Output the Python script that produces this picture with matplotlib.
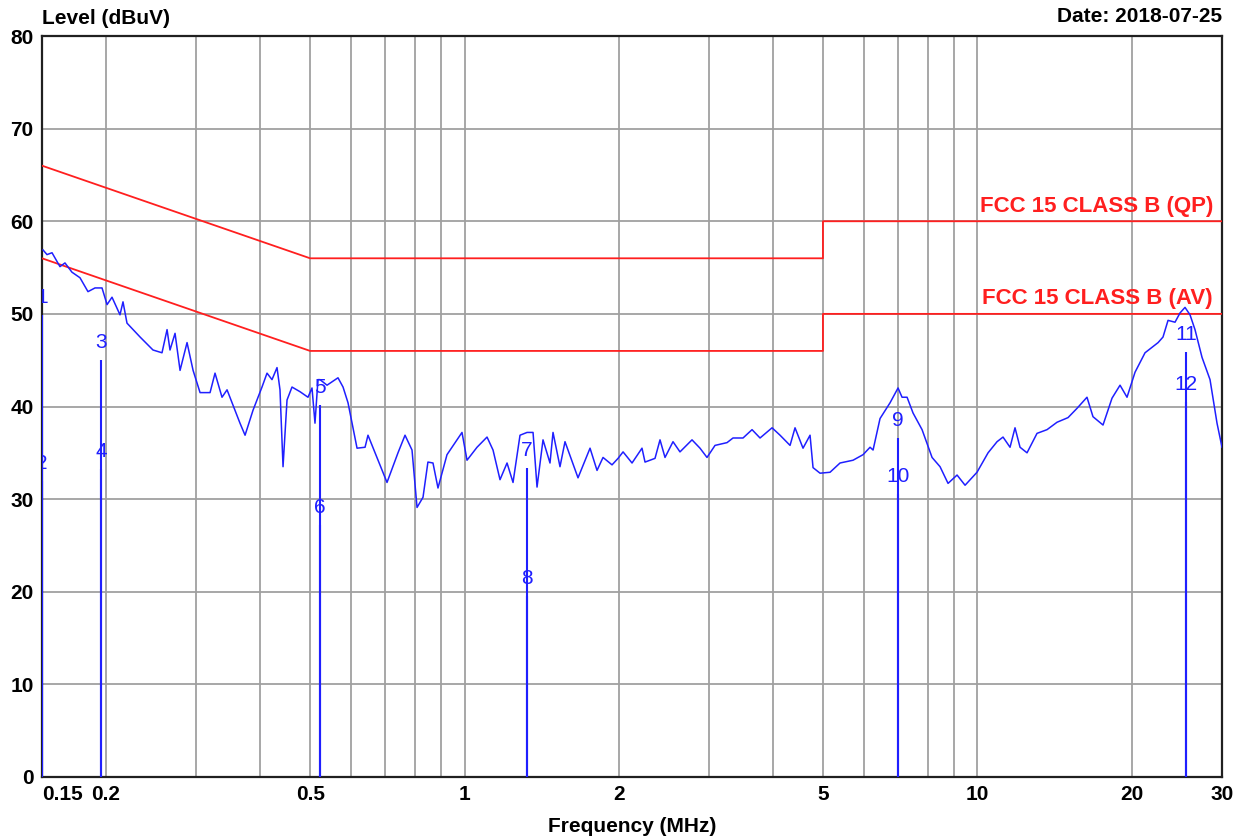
import matplotlib
matplotlib.use('Agg')
import matplotlib.pyplot as plt
from matplotlib.ticker import FixedLocator, NullFormatter

plt.rcParams['font.family'] = ['Liberation Sans', 'DejaVu Sans']

# --- measured trace (MHz, dBuV) ---
freq = [0.1507, 0.1534, 0.1569, 0.1626, 0.1663, 0.1716, 0.1779, 0.1844, 0.1903, 0.1964,
        0.2009, 0.2054, 0.2129, 0.2158, 0.2197, 0.2330, 0.2469, 0.2571, 0.2630, 0.2665,
        0.2726, 0.2788, 0.2877, 0.2956, 0.3050, 0.3190, 0.3262, 0.3366, 0.3443, 0.3521,
        0.3649, 0.3733, 0.3869, 0.4028, 0.4120, 0.4213, 0.4309, 0.4367, 0.4427, 0.4507,
        0.4609, 0.4777, 0.4952, 0.5042, 0.5110, 0.5179, 0.5226, 0.5394, 0.5666, 0.5796,
        0.5927, 0.6172, 0.6398, 0.6483, 0.6781, 0.7061, 0.7418, 0.7656, 0.7900, 0.8080,
        0.8300, 0.8485, 0.8680, 0.8877, 0.9244, 0.9888, 1.0113, 1.0578, 1.1064, 1.1366,
        1.1728, 1.2104, 1.2434, 1.2830, 1.3241, 1.3603, 1.3849, 1.4226, 1.4679, 1.4880,
        1.5353, 1.5702, 1.6647, 1.7570, 1.8131, 1.8626, 1.9394, 1.9925, 2.0379, 2.1216,
        2.2187, 2.2490, 2.3522, 2.4056, 2.4603, 2.5502, 2.6313, 2.7773, 2.8788, 2.9709,
        3.0795, 3.2501, 3.3387, 3.4922, 3.6366, 3.7695, 3.9783, 4.1238, 4.3133, 4.4108,
        4.5719, 4.7184, 4.7823, 4.9350, 5.1617, 5.3985, 5.7236, 5.9868, 6.1775, 6.2616,
        6.4607, 6.7577, 7.0049, 7.1319, 7.2945, 7.4925, 7.8026, 8.1606, 8.4590, 8.7681,
        9.1303, 9.4644, 9.9858, 10.494, 10.926, 11.223, 11.582, 11.844, 12.114, 12.500,
        13.074, 13.675, 14.303, 15.027, 15.645, 16.362, 16.809, 17.583, 18.309, 18.980,
        19.584, 20.301, 21.233, 22.517, 23.019, 23.544, 24.294, 24.846, 25.409, 25.986,
        26.574, 27.428, 28.430, 29.336, 30.0]
level = [56.9, 56.4, 56.6, 55.1, 55.5, 54.5, 53.9, 52.4, 52.8, 52.8,
         51.0, 51.8, 49.9, 51.3, 49.0, 47.5, 46.1, 45.8, 48.3, 46.1,
         47.9, 43.9, 46.9, 43.9, 41.5, 41.5, 43.6, 41.0, 41.8, 40.4,
         38.2, 36.9, 39.6, 42.1, 43.6, 42.9, 44.2, 41.8, 33.5, 40.7,
         42.1, 41.6, 41.0, 42.0, 38.2, 42.9, 42.9, 42.3, 43.1, 42.1,
         40.4, 35.5, 35.6, 36.9, 34.2, 31.8, 35.0, 36.9, 35.3, 29.1,
         30.2, 34.0, 33.9, 31.2, 34.8, 37.2, 34.2, 35.6, 36.7, 35.3,
         32.1, 33.9, 31.8, 36.9, 37.2, 37.2, 31.3, 36.4, 33.9, 37.2,
         33.5, 36.2, 32.3, 35.5, 33.1, 34.5, 33.7, 34.4, 35.1, 33.9,
         35.5, 34.0, 34.4, 36.4, 34.5, 36.2, 35.1, 36.4, 35.5, 34.5,
         35.8, 36.1, 36.6, 36.6, 37.5, 36.6, 37.7, 36.9, 35.8, 37.7,
         35.5, 36.9, 33.4, 32.8, 32.9, 33.9, 34.2, 34.8, 35.6, 35.3,
         38.7, 40.4, 42.0, 41.0, 41.0, 39.3, 37.5, 34.5, 33.5, 31.7,
         32.6, 31.5, 32.9, 35.0, 36.2, 36.7, 35.6, 37.7, 35.6, 35.0,
         37.1, 37.5, 38.3, 38.8, 39.8, 41.0, 38.9, 38.0, 40.9, 42.3,
         41.0, 43.7, 45.8, 46.9, 47.5, 49.3, 49.1, 50.1, 50.7, 49.9,
         48.3, 45.3, 42.9, 38.2, 35.6]

# --- limit lines ---
qp_freq = [0.15, 0.5, 5, 5, 30]
qp_level = [66, 56, 56, 60, 60]
av_freq = [0.15, 0.5, 5, 5, 30]
av_level = [56, 46, 46, 50, 50]

# --- markers ---
mk_label = ['1', '2', '3', '4', '5', '6', '7', '8', '9', '10', '11', '12']
mk_freq = [0.15, 0.15, 0.1954, 0.1954, 0.5228, 0.5228, 1.3247, 1.3247, 7.0, 7.0, 25.5, 25.5]
mk_level = [49.9, 32.0, 45.0, 33.2, 40.2, 27.2, 33.4, 19.5, 36.6, 30.5, 45.9, 40.5]

xticks = [0.15, 0.2, 0.5, 1, 2, 5, 10, 20, 30]
xtick_labels = ['0.15', '0.2', '0.5', '1', '2', '5', '10', '20', '30']
xminor = [0.3, 0.4, 0.6, 0.7, 0.8, 0.9, 3, 4, 6, 7, 8, 9]
yticks = [0, 10, 20, 30, 40, 50, 60, 70, 80]

BLUE = '#1f1fff'
RED = '#ff1f1f'

fig = plt.figure(figsize=(12.52, 8.4), dpi=100)
ax = fig.add_axes([42 / 1252, 63 / 840, 1180 / 1252, 741 / 840])
ax.set_xscale('log')
ax.set_xlim(0.15, 30)
ax.set_ylim(0, 80)

ax.xaxis.set_major_locator(FixedLocator(xticks))
ax.xaxis.set_minor_locator(FixedLocator(xminor))
ax.xaxis.set_minor_formatter(NullFormatter())
ax.set_xticklabels(xtick_labels)
ax.set_yticks(yticks)
ax.grid(which='both', color='#a0a0a0', linewidth=1.3, zorder=0)
ax.set_axisbelow(True)
ax.tick_params(which='both', length=0, labelsize=15, pad=6)
for lab in ax.get_xticklabels() + ax.get_yticklabels():
    lab.set_fontweight('bold')
ax.get_xticklabels()[0].set_horizontalalignment('left')
for sp in ax.spines.values():
    sp.set_color('#202020')
    sp.set_linewidth(1.6)

ax.plot(qp_freq, qp_level, color=RED, lw=1.3, zorder=3)
ax.plot(av_freq, av_level, color=RED, lw=1.3, zorder=3)
ax.text(0.9924, 60.5, 'FCC 15 CLASS B (QP)', transform=ax.get_yaxis_transform(),
        ha='right', va='bottom', color=RED, fontsize=16, fontweight='bold')
ax.text(0.9924, 50.5, 'FCC 15 CLASS B (AV)', transform=ax.get_yaxis_transform(),
        ha='right', va='bottom', color=RED, fontsize=16, fontweight='bold')

ax.plot(freq, level, color=BLUE, lw=1.1, zorder=4)

ax.vlines(mk_freq, 0, mk_level, colors=BLUE, lw=1.5, zorder=5)
for lb, f, v in zip(mk_label, mk_freq, mk_level):
    ax.text(f, v + 1.9, lb, ha='center', va='center', color=BLUE, fontsize=15,
            clip_on=True, zorder=6)

fig.text(42 / 1252, 1 - 18 / 840, 'Level (dBuV)', ha='left', va='center',
         fontsize=15, fontweight='bold')
fig.text(1222 / 1252, 1 - 16 / 840, 'Date: 2018-07-25', ha='right', va='center',
         fontsize=15, fontweight='bold')
fig.text(632 / 1252, 1 - 826 / 840, 'Frequency (MHz)', ha='center', va='center',
         fontsize=15, fontweight='bold')

fig.savefig('out.png', dpi=100)
